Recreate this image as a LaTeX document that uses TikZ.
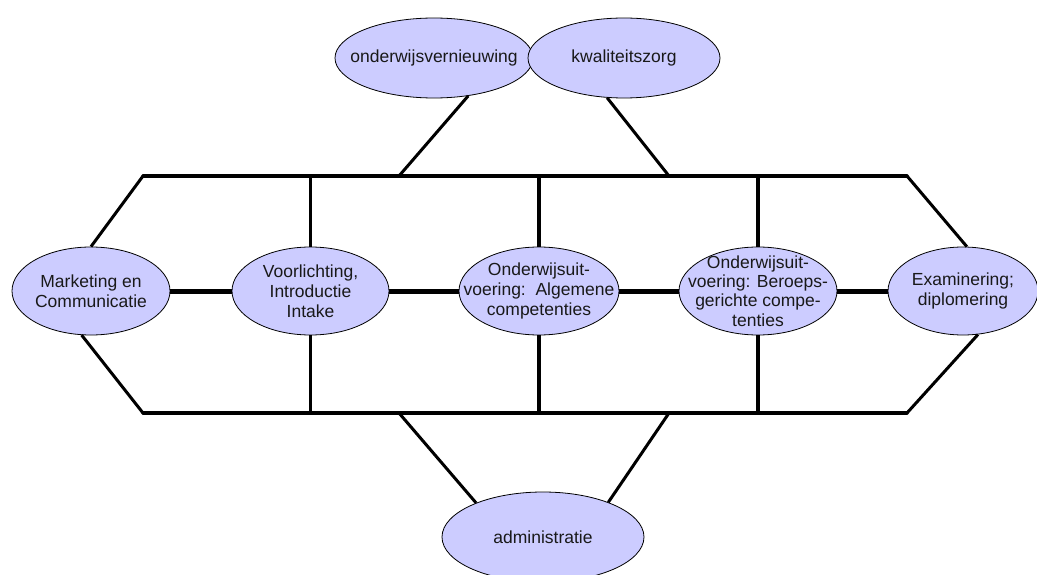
\documentclass[tikz,border=0pt]{standalone}
\usepackage{fontspec}
\setmainfont{Liberation Sans}
\usetikzlibrary{shapes.geometric}
\definecolor{lav}{HTML}{CCCCFF}
\begin{document}
\begin{tikzpicture}[x=1pt,y=-1pt,
  ell/.style={ellipse,draw=black,line width=0.8pt,fill=lav,inner sep=0pt,minimum height=88pt},
  txt/.style={inner sep=0pt,align=center,font=\fontsize{17.5}{20}\selectfont,text=black!90},
  frame/.style={line width=3.2pt,line cap=round},
  link/.style={line width=3pt},
  chain/.style={line width=5pt}]
\useasboundingbox (0,0) rectangle (1037,575);
% ellipses
\node[ell,minimum width=198pt,minimum height=80pt] (onv) at (434,58) {};
\node[ell,minimum width=192pt,minimum height=80pt] (kwa) at (624,58) {};
\node[ell,minimum width=158pt] (mark) at (91,291) {};
\node[ell,minimum width=157pt] (voor) at (310.5,291) {};
\node[ell,minimum width=160pt] (alg) at (539,291) {};
\node[ell,minimum width=158pt] (ber) at (758,291) {};
\node[ell,minimum width=150pt] (exa) at (963,291) {};
\node[ell,minimum width=202pt,minimum height=90pt] (adm) at (543,537) {};
% frame coordinates
\coordinate (tl) at (143,176);
\coordinate (tr) at (907,176);
\coordinate (bl) at (143,413);
\coordinate (br) at (907,413);
\coordinate (t1) at (399,176);
\coordinate (t2) at (669,176);
\coordinate (b1) at (399,413);
\coordinate (b2) at (669,413);
% frame
\draw[frame] (tl) -- (tr);
\draw[frame] (bl) -- (br);
\draw[link] (mark.north) -- (tl);
\draw[link] (mark.-102) -- (bl);
\draw[link] (exa.85) -- (tr);
\draw[link] (exa.-71) -- (br);
\foreach \n in {voor,alg,ber}{
  \draw[frame,line cap=butt] (\n.north) -- (\n.north |- tl);
  \draw[frame,line cap=butt] (\n.south) -- (\n.south |- bl);
}
% chain
\draw[chain] (mark.east) -- (voor.west);
\draw[chain] (voor.east) -- (alg.west);
\draw[chain] (alg.east) -- (ber.west);
\draw[chain] (ber.east) -- (exa.west);
% top and bottom links
\draw[link] (onv.-48) -- (t1);
\draw[link] (kwa.-113) -- (t2);
\draw[link] (adm.153) -- (b1);
\draw[link] (adm.28) -- (b2);
% texts
\node[txt] (onvt) at (onv) {onderwijsvernieuwing};
\node[txt] (kwat) at (kwa) {kwaliteitszorg};
\node[txt] (markt) at (mark) {Marketing en\\Communicatie};
\node[txt] (voort) at (voor) {Voorlichting,\\Introductie\\Intake};
\node[txt] (algt) at (alg) {Onderwijsuit-\\voering:\ \ Algemene\\competenties};
\node[txt,font=\fontsize{17.5}{19.3}\selectfont] (bert) at (ber) {Onderwijsuit-\\voering: Beroeps-\\gerichte compe-\\tenties};
\node[txt] (exat) at (exa) {Examinering;\\diplomering};
\node[txt] (admt) at (adm) {administratie};
\end{tikzpicture}
\end{document}
